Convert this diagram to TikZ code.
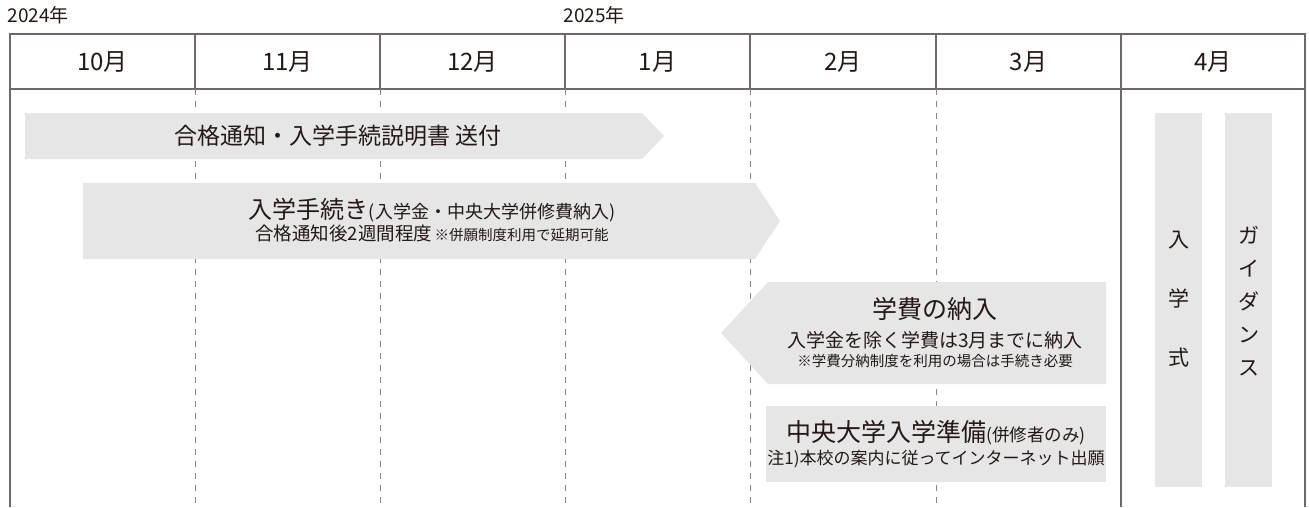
\documentclass[tikz,border=0pt]{standalone}
\usepackage{fontspec}
\newfontfamily\jp{Noto Sans CJK JP}
\newcommand{\fs}[1]{\fontsize{#1}{#1}\selectfont}

\begin{document}
\begin{tikzpicture}[x=1pt,y=-1pt,font=\jp]

    % Colors for the chart
    \definecolor{inkdark}{RGB}{35,24,21}
    \definecolor{barfill}{RGB}{230,230,231}
    \definecolor{rulegray}{RGB}{110,104,104}

    \tikzset{
        frameline/.style={draw=rulegray,line width=1.3pt},
        monthsep/.style={draw=rulegray!80,line width=0.9pt,dash pattern=on 6pt off 6pt},
        bar/.style={fill=barfill,draw=none},
        month/.style={text=inkdark,font=\jp\fs{24}},
        yearlbl/.style={text=inkdark,font=\jp\fs{19},anchor=west},
        bartext/.style={text=inkdark,align=center}
    }

    \useasboundingbox (0,0) rectangle (1309,507);

    % Years
    \node[yearlbl] (y2024) at (4,15) {2024年};
    \node[yearlbl] (y2025) at (560,15) {2025年};

    % Header frame
    \draw[frameline] (10,507) -- (10,34) -- (1305,34) -- (1305,507);
    \draw[frameline] (10,89) -- (1305,89);
    \foreach \x in {195,380,565,750,936,1121}
        \draw[frameline] (\x,34) -- (\x,89);
    \foreach \m/\x in {10/102.5,11/287.5,12/472.5,1/657.5,2/843,3/1028.5,4/1213}
        \node[month] (m\m) at (\x,62) {{\m}月};

    % Month separators below the header
    \foreach \x in {195,380,565,750,936}
        \draw[monthsep] (\x,89) -- (\x,507);
    \draw[frameline] (1121,89) -- (1121,507);

    % Arrow 1: notice
    \fill[bar] (25,113) -- (642,113) -- (664,136) -- (642,159) -- (25,159) -- cycle;
    \node[bartext,font=\jp\fs{23}] (notice) at (338,136) {合格通知・入学手続説明書 送付};

    % Arrow 2: enrolment procedure
    \fill[bar] (83,183) -- (755,183) -- (780,221) -- (755,259) -- (83,259) -- cycle;
    \node[bartext] (proc) at (432,220) {%
        {\fs{24}入学手続き}{\fs{18}(入学金・中央大学併修費納入)}\\[2pt]
        {\fs{18.5}合格通知後2週間程度}\ {\fs{14.5}※併願制度利用で延期可能}};

    % Arrow 3: tuition (points left)
    \fill[bar] (1106,282) -- (768,282) -- (721,333) -- (768,384) -- (1106,384) -- cycle;
    \node[bartext] (fee) at (935,333) {%
        {\fs{25}学費の納入}\\[9pt]
        {\fs{19}入学金を除く学費は3月までに納入}\\[5pt]
        {\fs{14.5}※学費分納制度を利用の場合は手続き必要}};

    % Box 4: Chuo preparation
    \fill[bar] (766,406) rectangle (1106,482);
    \node[bartext] (prep) at (936,444) {%
        {\fs{25}中央大学入学準備}{\fs{17.5}(併修者のみ)}\\[5pt]
        {\fs{17}注1)本校の案内に従ってインターネット出願}};

    % April: ceremony and guidance
    \fill[bar] (1155,113) rectangle (1202,487);
    \fill[bar] (1225,113) rectangle (1272,487);
    \node[bartext,font=\jp\fontsize{21}{59}\selectfont] (cere) at (1178.5,299) {入\\学\\式};
    \node[bartext,font=\jp\fontsize{21}{33}\selectfont] (guide) at (1248.5,301) {ガ\\イ\\ダ\\ン\\ス};

\end{tikzpicture}
\end{document}
